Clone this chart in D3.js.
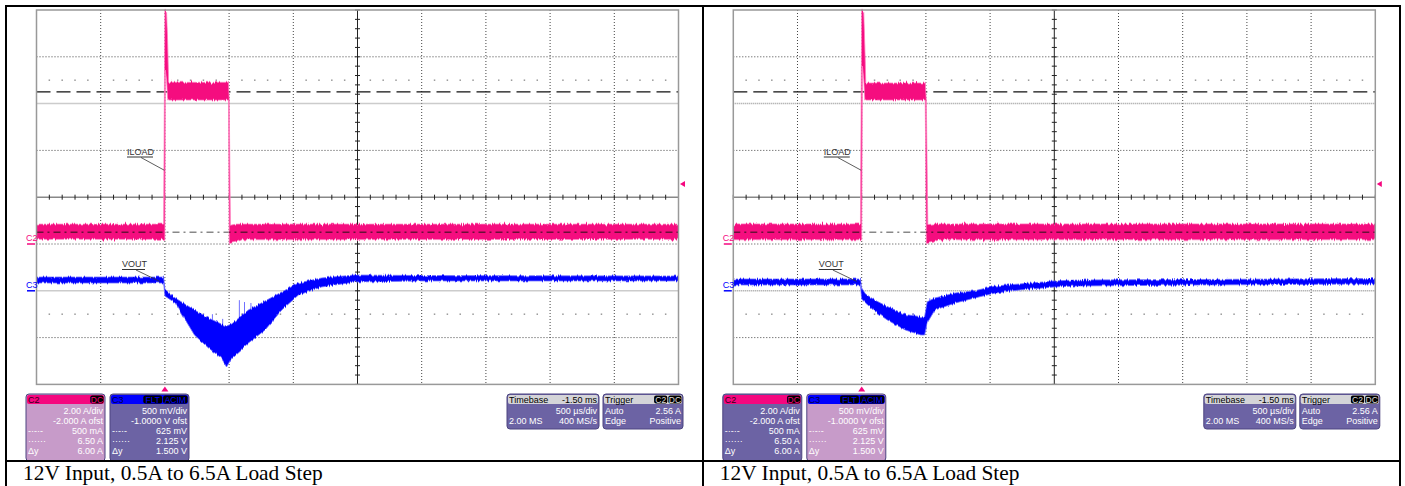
<!DOCTYPE html>
<html>
<head>
<meta charset="utf-8">
<script src="https://cdn.jsdelivr.net/npm/d3@7"></script>
<style>
body { margin: 0; background: #fff; }
svg text { font-family: "Liberation Sans", Arial, sans-serif; }
</style>
</head>
<body>
<script>
// time in ms, 0 = trigger, 500 us/div x 10 div
var timeDomain = [-1.0, 4.0];
// C2: 2.00 A/div, -2.000 A ofst  -> 8 div from -6 A to 10 A
var ampDomain = [-6, 10];
// C3: 500 mV/div, -1.0000 V ofst -> 8 div from -1 V to 3 V
var voltDomain = [-1, 3];

// envelopes: [t ms, low, high]
var iloadLeft = [
  [-1.0, 0.20, 0.85], [-0.01, 0.20, 0.85], [0.0, 0.20, 9.99], [0.004, 7.43, 9.99],
  [0.013, 7.0, 9.91], [0.021, 6.23, 8.71], [0.029, 6.15, 6.91], [0.495, 6.15, 6.91],
  [0.501, 0.03, 6.15], [0.510, 0.03, 0.80], [0.554, 0.08, 0.85], [0.60, 0.18, 0.85],
  [4.0, 0.20, 0.85]
];
var voutLeft = [
  [-1.0, 0.083, 0.147], [-0.01, 0.083, 0.147], [0.0, -0.056, 0.019], [0.08, -0.130, -0.077],
  [0.23, -0.472, -0.205], [0.34, -0.611, -0.291], [0.44, -0.718, -0.355], [0.48, -0.814, -0.376],
  [0.52, -0.718, -0.355], [0.65, -0.558, -0.205], [0.78, -0.419, -0.109], [0.91, -0.205, -0.013],
  [1.04, -0.045, 0.083], [1.22, 0.041, 0.137], [1.48, 0.094, 0.169], [1.99, 0.105, 0.163],
  [4.0, 0.105, 0.158]
];
var iloadRight = [
  [-1.0, 0.18, 0.86], [-0.01, 0.18, 0.86], [0.0, 0.18, 9.99], [0.006, 7.6, 9.99],
  [0.016, 7.0, 9.9], [0.024, 6.2, 8.5], [0.032, 6.15, 6.88], [0.495, 6.15, 6.88],
  [0.503, 0.03, 6.15], [0.515, 0.03, 0.83], [0.56, 0.08, 0.86], [0.60, 0.18, 0.86],
  [4.0, 0.18, 0.86]
];
var voutRight = [
  [-1.0, 0.062, 0.126], [-0.01, 0.062, 0.126], [0.0, -0.088, 0.030], [0.03, -0.130, -0.034],
  [0.10, -0.216, -0.098], [0.20, -0.312, -0.169], [0.34, -0.419, -0.254], [0.46, -0.472, -0.276],
  [0.49, -0.472, -0.276], [0.51, -0.344, -0.118], [0.57, -0.205, -0.077], [0.73, -0.130, -0.023],
  [0.88, -0.077, 0.001], [1.04, -0.024, 0.051], [1.23, 0.009, 0.073], [1.50, 0.041, 0.105],
  [1.66, 0.051, 0.115], [2.63, 0.062, 0.121], [4.0, 0.073, 0.131]
];
// a few pale spikes seen in the VOUT valley: [t ms, from V, to V]
var spikesLeft = [[0.37, -0.36, -0.25], [0.58, -0.38, -0.10], [0.62, -0.33, -0.12], [0.67, -0.30, -0.13], [0.45, -0.50, -0.30]];
var spikesRight = [[0.40, -0.30, -0.24], [0.53, -0.15, -0.08]];

// cursors (amps on C2 scale)
var dashDotLevel = 0.5;
var dashLevel = 6.5;
var dotLevels = [7.0, -3.0];
var grayLevels = [6.0, -2.0];
var trigLevel = 2.56;

var captions = ["12V Input, 0.5A to 6.5A Load Step", "12V Input, 0.5A to 6.5A Load Step"];

var c2Rows = [["", "2.00 A/div"], ["", "-2.000 A ofst"], ["-·-·-", "500 mA"], ["······", "6.50 A"], ["Δy", "6.00 A"]];
var c3Rows = [["", "500 mV/div"], ["", "-1.0000 V ofst"], ["-·-·-", "625 mV"], ["······", "2.125 V"], ["Δy", "1.500 V"]];
var tbHead = ["Timebase", "-1.50 ms"];
var tbRows = [["", "500 µs/div"], ["2.00 MS", "400 MS/s"]];
var trHead = ["Trigger", ""];
var trRows = [["Auto", "2.56 A"], ["Edge", "Positive"]];

var pink = "#f5077f", pinkLight = "#ff80bf", blue = "#0000ff", blueLight = "#7070ff";
var lilac = "#c79bc9", slate = "#6c63a4";

var W = 1405, H = 486;
var svg = d3.select("body").append("svg").attr("width", W).attr("height", H);

// ragged edges for the noisy traces (vertical displacement only)
var defs = svg.append("defs");
function rough(id, freq, scale) {
  var f = defs.append("filter").attr("id", id).attr("x", "-2%").attr("y", "-10%")
    .attr("width", "104%").attr("height", "120%");
  f.append("feTurbulence").attr("type", "fractalNoise").attr("baseFrequency", freq)
    .attr("numOctaves", 2).attr("seed", 3).attr("result", "n");
  f.append("feColorMatrix").attr("in", "n").attr("type", "matrix")
    .attr("values", "0 0 0 0 0.5  0 1 0 0 0  0 0 1 0 0  0 0 0 0 1").attr("result", "m");
  f.append("feDisplacementMap").attr("in", "SourceGraphic").attr("in2", "m")
    .attr("scale", scale).attr("xChannelSelector", "R").attr("yChannelSelector", "G");
}
rough("roughA", "0.9 0.03", 5);
rough("roughV", "0.9 0.03", 4);

var gx0 = 36.5, gx1 = 678.5, gy0 = 10, gy1 = 384.4;
var x = d3.scaleLinear().domain(timeDomain).range([gx0, gx1]);
var yA = d3.scaleLinear().domain(ampDomain).range([gy1, gy0]);
var yV = d3.scaleLinear().domain(voltDomain).range([gy1, gy0]);

function drawPanel(idx, off, iload, vout, spikes, c2Body, c3Body, caption) {
  var g = svg.append("g").attr("transform", "translate(" + off + ",0)");

  // dotted grid
  var vt = d3.range(-0.5, 4.0, 0.5).filter(function(t) { return Math.abs(t - 1.5) > 1e-6; });
  g.selectAll(".vg").data(vt).enter().append("line")
    .attr("x1", function(d) { return x(d); }).attr("x2", function(d) { return x(d); })
    .attr("y1", gy0).attr("y2", gy1)
    .attr("stroke", "#444").attr("stroke-width", 1).attr("stroke-dasharray", "1,2");
  var ht = d3.range(-4, 10, 2).filter(function(a) { return a !== 2 && grayLevels.indexOf(a) < 0; });
  g.selectAll(".hg").data(ht).enter().append("line")
    .attr("x1", gx0).attr("x2", gx1)
    .attr("y1", function(d) { return yA(d); }).attr("y2", function(d) { return yA(d); })
    .attr("stroke", "#444").attr("stroke-width", 1).attr("stroke-dasharray", "1,2");
  g.selectAll(".gl").data(grayLevels).enter().append("line")
    .attr("x1", gx0).attr("x2", gx1)
    .attr("y1", function(d) { return yA(d); }).attr("y2", function(d) { return yA(d); })
    .attr("stroke", "#999").attr("stroke-width", 1.5).attr("stroke-dasharray", "1,1");

  // sparse dots
  dotLevels.forEach(function(a) {
    var pts = d3.range(-1, 4.0001, 0.1).filter(function(t) {
      return Math.abs(Math.round(t * 2) - t * 2) > 0.05;
    });
    g.selectAll(null).data(pts).enter().append("rect")
      .attr("x", function(d) { return x(d) - 0.75; }).attr("y", yA(a) - 0.75)
      .attr("width", 1.5).attr("height", 1.5).attr("fill", "#999");
  });

  // center axes with minor ticks
  g.append("line").attr("x1", gx0).attr("x2", gx1).attr("y1", yA(2)).attr("y2", yA(2))
    .attr("stroke", "#888").attr("stroke-width", 1.5);
  g.append("line").attr("x1", x(1.5)).attr("x2", x(1.5)).attr("y1", gy0).attr("y2", gy1)
    .attr("stroke", "#222").attr("stroke-width", 1);
  var xm = d3.range(-1, 4.0001, 0.1);
  g.selectAll(".xt").data(xm).enter().append("line")
    .attr("x1", function(d) { return x(d); }).attr("x2", function(d) { return x(d); })
    .attr("y1", yA(2) - 2.5).attr("y2", yA(2) + 2.5).attr("stroke", "#222");
  var ym = d3.range(-6, 10.001, 0.4);
  g.selectAll(".yt").data(ym).enter().append("line")
    .attr("x1", x(1.5) - 2.5).attr("x2", x(1.5) + 2.5)
    .attr("y1", function(d) { return yA(d); }).attr("y2", function(d) { return yA(d); })
    .attr("stroke", "#222");

  // cursors
  g.append("line").attr("x1", gx0).attr("x2", gx1).attr("y1", yA(dashLevel)).attr("y2", yA(dashLevel))
    .attr("stroke", "#111").attr("stroke-width", 1.2).attr("stroke-dasharray", "14,6");
  g.append("line").attr("x1", gx0).attr("x2", gx1).attr("y1", yA(dashDotLevel)).attr("y2", yA(dashDotLevel))
    .attr("stroke", "#888").attr("stroke-width", 1.5).attr("stroke-dasharray", "7,4,2,4");

  // traces
  var areaA = d3.area().x(function(d) { return x(d[0]); })
    .y0(function(d) { return yA(d[1]); }).y1(function(d) { return yA(d[2]); });
  var areaV = d3.area().x(function(d) { return x(d[0]); })
    .y0(function(d) { return yV(d[1]); }).y1(function(d) { return yV(d[2]); });
  g.append("path").datum(iload).attr("d", areaA)
    .attr("fill", pink).attr("stroke", pinkLight).attr("stroke-width", 0.8)
    .attr("filter", "url(#roughA)");
  g.selectAll(".sp").data(spikes).enter().append("line")
    .attr("x1", function(d) { return x(d[0]); }).attr("x2", function(d) { return x(d[0]); })
    .attr("y1", function(d) { return yV(d[1]); }).attr("y2", function(d) { return yV(d[2]); })
    .attr("stroke", blueLight).attr("stroke-width", 1);
  g.append("path").datum(vout).attr("d", areaV)
    .attr("fill", blue).attr("stroke", blueLight).attr("stroke-width", 0.8)
    .attr("filter", "url(#roughV)");

  // dash-dot shows dark where it crosses the pink trace
  var cid = "clipA" + idx;
  g.append("clipPath").attr("id", cid).append("path").datum(iload).attr("d", areaA);
  g.append("line").attr("x1", gx0).attr("x2", gx1).attr("y1", yA(dashDotLevel)).attr("y2", yA(dashDotLevel))
    .attr("stroke", "#6a1038").attr("stroke-width", 1.5).attr("stroke-dasharray", "7,4,2,4")
    .attr("clip-path", "url(#" + cid + ")");

  // grid border
  g.append("rect").attr("x", gx0).attr("y", gy0).attr("width", gx1 - gx0).attr("height", gy1 - gy0)
    .attr("fill", "none").attr("stroke", "#999").attr("stroke-width", 1.5);

  // channel ground markers
  g.append("text").attr("x", 26).attr("y", yA(0) - 3).attr("font-size", 9).attr("fill", pink).text("C2");
  g.append("line").attr("x1", 27).attr("x2", 35).attr("y1", yA(0)).attr("y2", yA(0))
    .attr("stroke", pink).attr("stroke-width", 1.5);
  g.append("text").attr("x", 26).attr("y", yV(0) - 3).attr("font-size", 9).attr("fill", blue).text("C3");
  g.append("line").attr("x1", 27).attr("x2", 35).attr("y1", yV(0)).attr("y2", yV(0))
    .attr("stroke", blue).attr("stroke-width", 1.5);

  // trigger markers
  var tx = x(0), ty = gy1 + 2;
  g.append("path").attr("d", "M" + tx + "," + ty + "l-3.5,5h7z").attr("fill", pink);
  var ly = yA(trigLevel);
  g.append("path").attr("d", "M" + (gx1 + 1.5) + "," + ly + "l5,-3v6z").attr("fill", pink);

  // labels with leaders
  g.append("text").attr("x", 127).attr("y", 155).attr("font-size", 9).attr("fill", "#333").text("ILOAD");
  g.append("line").attr("x1", 127).attr("x2", 153).attr("y1", 157).attr("y2", 157).attr("stroke", "#333");
  g.append("line").attr("x1", 141).attr("y1", 157.5).attr("x2", x(0) - 0.5).attr("y2", yA(3.15))
    .attr("stroke", "#333").attr("stroke-width", 0.8);
  g.append("text").attr("x", 122).attr("y", 267).attr("font-size", 9).attr("fill", "#333").text("VOUT");
  g.append("line").attr("x1", 122).attr("x2", 145).attr("y1", 269.5).attr("y2", 269.5).attr("stroke", "#333");
  g.append("line").attr("x1", 136).attr("y1", 270).attr("x2", x(-0.04)).attr("y2", yV(0.1))
    .attr("stroke", "#333").attr("stroke-width", 0.8);

  // info boxes
  function box(bx, bw, bh, head, headFill, headText, badges, badgeText, body, rows) {
    var b = g.append("g");
    b.append("rect").attr("x", bx).attr("y", 394).attr("width", bw).attr("height", bh)
      .attr("rx", 3).attr("fill", body).attr("stroke", "#4d4580").attr("stroke-width", 1);
    b.append("rect").attr("x", bx + 1).attr("y", 395).attr("width", bw - 2).attr("height", 9)
      .attr("rx", 2).attr("fill", headFill);
    b.append("text").attr("x", bx + 2).attr("y", 402.5).attr("font-size", 9).attr("fill", headText).text(head[0]);
    if (head[1]) {
      b.append("text").attr("x", bx + bw - 2).attr("y", 402.5).attr("font-size", 9)
        .attr("text-anchor", "end").attr("fill", headText).text(head[1]);
    }
    var bxr = bx + bw - 1.5;
    badges.slice().reverse().forEach(function(s) {
      var w = s.length * 5.6 + 2;
      b.append("rect").attr("x", bxr - w).attr("y", 395.5).attr("width", w).attr("height", 8)
        .attr("rx", 2).attr("fill", "#000");
      b.append("text").attr("x", bxr - w / 2).attr("y", 402.5).attr("font-size", 8.5)
        .attr("text-anchor", "middle").attr("fill", badgeText).text(s);
      bxr -= w + 1;
    });
    rows.forEach(function(r, i) {
      var yy = 413.5 + i * 10;
      if (r[0]) b.append("text").attr("x", bx + 2).attr("y", yy).attr("font-size", 9).attr("fill", "#fff").text(r[0]);
      b.append("text").attr("x", bx + bw - 2).attr("y", yy).attr("font-size", 9)
        .attr("text-anchor", "end").attr("fill", "#fff").text(r[1]);
    });
  }
  box(26, 79, 67, ["C2", ""], pink, "#300018", ["DC"], pink, c2Body, c2Rows);
  box(110, 79, 67, ["C3", ""], blue, "#000040", ["FLT", "ACIM"], blue, c3Body, c3Rows);
  box(507, 92, 35, tbHead, "#d4d4d8", "#000", [], "#fff", slate, tbRows);
  box(603, 80, 35, trHead, "#d4d4d8", "#000", ["C2", "DC"], "#ddd", slate, trRows);

  // caption
  g.append("text").attr("x", 23).attr("y", 480).attr("font-size", 21.4)
    .style("font-family", "'Liberation Serif', 'Times New Roman', serif").attr("fill", "#000").text(caption);
}

drawPanel(0, 0, iloadLeft, voutLeft, spikesLeft, lilac, slate, captions[0]);
drawPanel(1, 696.8, iloadRight, voutRight, spikesRight, slate, lilac, captions[1]);

// table borders
var bl = [[6, 6, 5, H], [703, 703, 5, H], [1400, 1400, 5, H], [5, 1401, 6, 6], [5, 1401, 461, 461]];
svg.selectAll(".bd").data(bl).enter().append("line")
  .attr("x1", function(d) { return d[0]; }).attr("x2", function(d) { return d[1]; })
  .attr("y1", function(d) { return d[2]; }).attr("y2", function(d) { return d[3]; })
  .attr("stroke", "#000").attr("stroke-width", 2);
</script>
</body>
</html>
